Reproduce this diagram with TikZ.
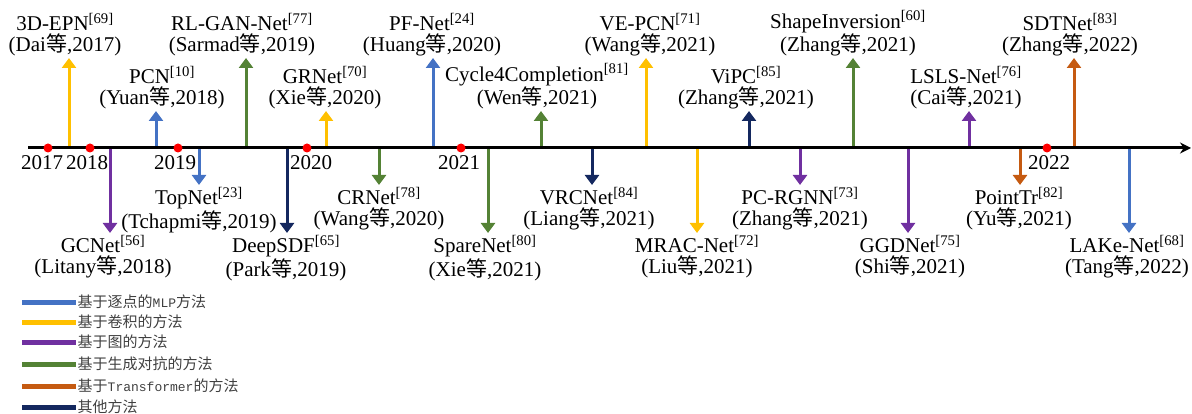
\documentclass[tikz,border=0pt]{standalone}
\usepackage{fontspec}
\setmainfont{Liberation Serif}
\setmonofont{Liberation Mono}
\newfontfamily\cjk{Noto Sans CJK SC}
\usetikzlibrary{arrows.meta}
\definecolor{cblue}{HTML}{4472C4}
\definecolor{cyellow}{HTML}{FFC000}
\definecolor{cpurple}{HTML}{7030A0}
\definecolor{cgreen}{HTML}{548235}
\definecolor{corange}{HTML}{C55A11}
\definecolor{cnavy}{HTML}{14285F}
\definecolor{legtext}{HTML}{404040}
\newcommand\deng{{\cjk 等}}
\newcommand\rf[1]{\textsuperscript{[#1]}}
\newcommand\lat[1]{{\ttfamily\fontsize{13}{15}\selectfont #1}}
\begin{document}
\begin{tikzpicture}[x=1pt,y=-1pt,
  lab/.style={align=center,font=\fontsize{21}{20.5}\selectfont,inner sep=2pt},
  yr/.style={font=\fontsize{21}{21}\selectfont,inner sep=0pt},
  arr/.style={line width=3pt,-{Triangle[width=14pt,length=10pt]}},
  dot/.style={circle,fill=red,inner sep=0pt,minimum size=9pt},
  leg/.style={anchor=west,font=\cjk\fontsize{15}{17}\selectfont,text=legtext,inner sep=1.5pt},
  legline/.style={line width=5pt}]
\useasboundingbox (0,0) rectangle (1192,414);

% ---------- up, long ----------
\coordinate (a1) at (69,148);
\node[lab,anchor=south] (l1) at (65,58) {3D-EPN\rf{69}\\(Dai\deng,2017)};
\draw[arr,cyellow] (a1) -- (a1 |- l1.south);

\coordinate (a2) at (246,148);
\node[lab,anchor=south] (l2) at (242,58) {RL-GAN-Net\rf{77}\\(Sarmad\deng,2019)};
\draw[arr,cgreen] (a2) -- (a2 |- l2.south);

\coordinate (a3) at (433,148);
\node[lab,anchor=south] (l3) at (432,58) {PF-Net\rf{24}\\(Huang\deng,2020)};
\draw[arr,cblue] (a3) -- (a3 |- l3.south);

\coordinate (a4) at (646,148);
\node[lab,anchor=south] (l4) at (650,58) {VE-PCN\rf{71}\\(Wang\deng,2021)};
\draw[arr,cyellow] (a4) -- (a4 |- l4.south);

\coordinate (a5) at (853,148);
\node[lab,anchor=south] (l5) at (848,58) {ShapeInversion\rf{60}\\(Zhang\deng,2021)};
\draw[arr,cgreen] (a5) -- (a5 |- l5.south);

\coordinate (a6) at (1074,148);
\node[lab,anchor=south] (l6) at (1070,58) {SDTNet\rf{83}\\(Zhang\deng,2022)};
\draw[arr,corange] (a6) -- (a6 |- l6.south);

% ---------- up, short ----------
\coordinate (b1) at (156,148);
\node[lab,anchor=south] (m1) at (162,111) {PCN\rf{10}\\(Yuan\deng,2018)};
\draw[arr,cblue] (b1) -- (b1 |- m1.south);

\coordinate (b2) at (326,148);
\node[lab,anchor=south] (m2) at (325,111) {GRNet\rf{70}\\(Xie\deng,2020)};
\draw[arr,cyellow] (b2) -- (b2 |- m2.south);

\coordinate (b3) at (541,148);
\node[lab,anchor=south] (m3) at (537,111) {Cycle4Completion\rf{81}\\(Wen\deng,2021)};
\draw[arr,cgreen] (b3) -- (b3 |- m3.south);

\coordinate (b4) at (749,148);
\node[lab,anchor=south] (m4) at (746,111) {ViPC\rf{85}\\(Zhang\deng,2021)};
\draw[arr,cnavy] (b4) -- (b4 |- m4.south);

\coordinate (b5) at (969,148);
\node[lab,anchor=south] (m5) at (966,111) {LSLS-Net\rf{76}\\(Cai\deng,2021)};
\draw[arr,cpurple] (b5) -- (b5 |- m5.south);

% ---------- down, short ----------
\coordinate (c1) at (199,148);
\node[lab,anchor=north] (n1) at (199,185) {TopNet\rf{23}\\(Tchapmi\deng,2019)};
\draw[arr,cblue] (c1) -- (c1 |- n1.north);

\coordinate (c2) at (379,148);
\node[lab,anchor=north] (n2) at (379,185) {CRNet\rf{78}\\(Wang\deng,2020)};
\draw[arr,cgreen] (c2) -- (c2 |- n2.north);

\coordinate (c3) at (592,148);
\node[lab,anchor=north] (n3) at (589,185) {VRCNet\rf{84}\\(Liang\deng,2021)};
\draw[arr,cnavy] (c3) -- (c3 |- n3.north);

\coordinate (c4) at (800,148);
\node[lab,anchor=north] (n4) at (800,185) {PC-RGNN\rf{73}\\(Zhang\deng,2021)};
\draw[arr,cpurple] (c4) -- (c4 |- n4.north);

\coordinate (c5) at (1020,148);
\node[lab,anchor=north] (n5) at (1019,185) {PointTr\rf{82}\\(Yu\deng,2021)};
\draw[arr,corange] (c5) -- (c5 |- n5.north);

% ---------- down, long ----------
\coordinate (e1) at (110,148);
\node[lab,anchor=north] (o1) at (103,233) {GCNet\rf{56}\\(Litany\deng,2018)};
\draw[arr,cpurple] (e1) -- (e1 |- o1.north);

\coordinate (e2) at (287,148);
\node[lab,anchor=north] (o2) at (286,233) {DeepSDF\rf{65}\\(Park\deng,2019)};
\draw[arr,cnavy] (e2) -- (e2 |- o2.north);

\coordinate (e3) at (488,148);
\node[lab,anchor=north] (o3) at (485,233) {SpareNet\rf{80}\\(Xie\deng,2021)};
\draw[arr,cgreen] (e3) -- (e3 |- o3.north);

\coordinate (e4) at (697,148);
\node[lab,anchor=north] (o4) at (697,233) {MRAC-Net\rf{72}\\(Liu\deng,2021)};
\draw[arr,cyellow] (e4) -- (e4 |- o4.north);

\coordinate (e5) at (908,148);
\node[lab,anchor=north] (o5) at (910,233) {GGDNet\rf{75}\\(Shi\deng,2021)};
\draw[arr,cpurple] (e5) -- (e5 |- o5.north);

\coordinate (e6) at (1129,148);
\node[lab,anchor=north] (o6) at (1127,233) {LAKe-Net\rf{68}\\(Tang\deng,2022)};
\draw[arr,cblue] (e6) -- (e6 |- o6.north);

% ---------- axis ----------
\coordinate (ax0) at (28,148);
\coordinate (ax1) at (1191,148);
\draw[line width=3pt,-{Stealth[length=11pt,width=11pt]}] (ax0) -- (ax1);

\node[dot] (d17) at (48,148) {};
\node[dot] (d18) at (90,148) {};
\node[dot] (d19) at (178,148) {};
\node[dot] (d20) at (307,148) {};
\node[dot] (d21) at (461,148) {};
\node[dot] (d22) at (1047,148) {};
\node[yr] (y17) at (42,163) {2017};
\node[yr] (y18) at (87,163) {2018};
\node[yr] (y19) at (175,163) {2019};
\node[yr] (y20) at (311,163) {2020};
\node[yr] (y21) at (459,163) {2021};
\node[yr] (y22) at (1049,163) {2022};

% ---------- legend ----------
\coordinate (g1a) at (22,302);
\node[leg] (g1) at (76,302) {基于逐点的\lat{MLP}方法};
\draw[legline,cblue] (g1a) -- (g1.west);
\coordinate (g2a) at (22,322);
\node[leg] (g2) at (76,322) {基于卷积的方法};
\draw[legline,cyellow] (g2a) -- (g2.west);
\coordinate (g3a) at (22,342);
\node[leg] (g3) at (76,342) {基于图的方法};
\draw[legline,cpurple] (g3a) -- (g3.west);
\coordinate (g4a) at (22,364);
\node[leg] (g4) at (76,364) {基于生成对抗的方法};
\draw[legline,cgreen] (g4a) -- (g4.west);
\coordinate (g5a) at (22,386);
\node[leg] (g5) at (76,386) {基于\lat{Transformer}的方法};
\draw[legline,corange] (g5a) -- (g5.west);
\coordinate (g6a) at (22,407);
\node[leg] (g6) at (76,407) {其他方法};
\draw[legline,cnavy] (g6a) -- (g6.west);
\end{tikzpicture}
\end{document}
